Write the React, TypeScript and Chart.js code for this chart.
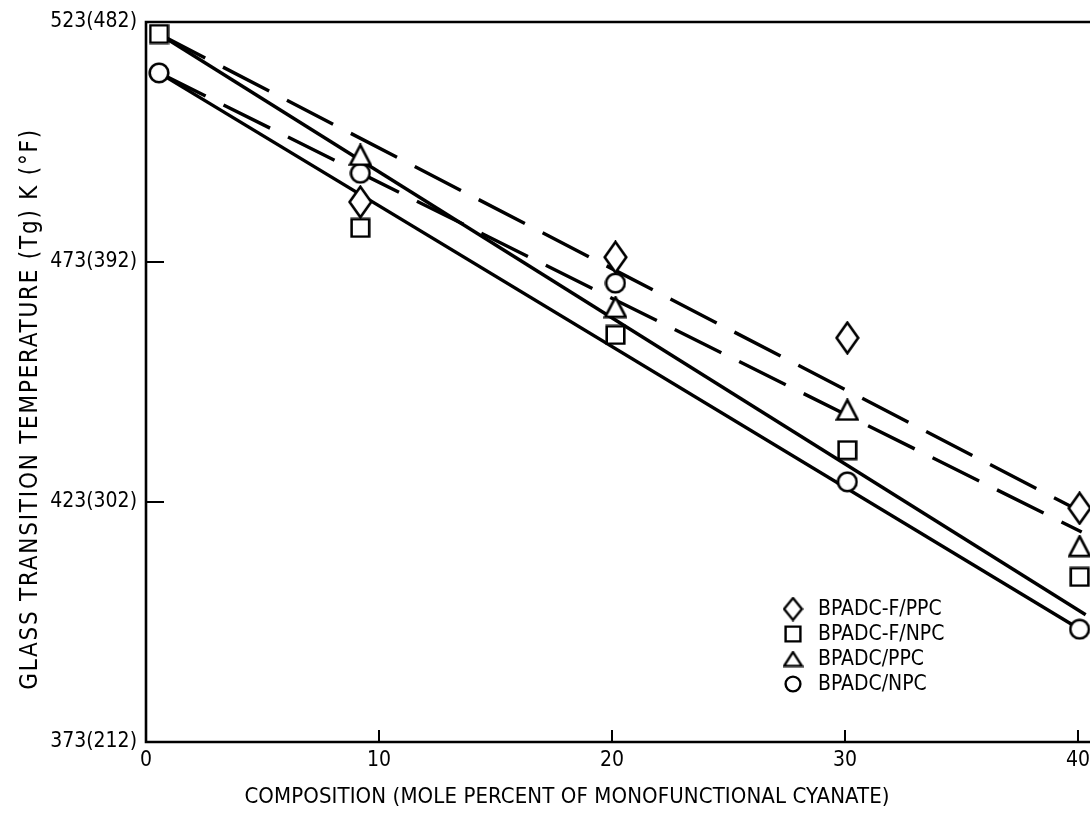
import React, { useEffect, useRef } from "react";
import { Chart, registerables } from "chart.js";

Chart.register(...registerables);

// Mole percent of monofunctional cyanate at which each group of specimens was plotted
const composition = [0.56, 9.2, 20.15, 30.1, 40.07];

// Glass transition temperatures, K
const tgFPPC = [null, 485.5, 474.0, 457.2, 421.7];
const tgFNPC = [520.5, 480.1, 457.8, 433.8, 407.4];
const tgPPC = [null, 495.3, 463.6, 442.2, 413.8];
const tgNPC = [512.4, 491.5, 468.6, 427.2, 396.5];

const seriesLabels = ["BPADC-F/PPC", "BPADC-F/NPC", "BPADC/PPC", "BPADC/NPC"];

// Straight-line fits, given by their two end points
const fitFPPCx = [0.56, 40.16];
const fitFPPCy = [520.5, 420.9];
const fitFNPCx = [0.56, 40.33];
const fitFNPCy = [520.5, 399.5];
const fitPPCx = [0.56, 40.16];
const fitPPCy = [512.4, 416.75];
const fitNPCx = [0.56, 40.08];
const fitNPCy = [512.4, 396.5];

const xTicks = [0, 10, 20, 30, 40];
const xTickLabels = ["0", "10", "20", "30", "40"];
const yTicks = [373, 423, 473, 523];
const yTickLabels = ["373(212)", "423(302)", "473(392)", "523(482)"];

const xTitle = "COMPOSITION (MOLE PERCENT OF MONOFUNCTIONAL CYANATE)";
const yTitle = "GLASS TRANSITION TEMPERATURE (Tg) K (°F)";

const FONT = '"DejaVu Sans Condensed", "Liberation Sans Narrow", sans-serif';

type Shape = "diamond" | "square" | "triangle" | "circle";

function makeMarker(shape: Shape, w: number, h: number, lw = 2.6): HTMLCanvasElement {
  const c = document.createElement("canvas");
  c.width = w;
  c.height = h;
  const ctx = c.getContext("2d")!;
  const m = lw / 2 + 0.4;
  ctx.lineWidth = lw;
  ctx.strokeStyle = "#000";
  ctx.fillStyle = "#fff";
  ctx.lineJoin = "miter";
  ctx.beginPath();
  if (shape === "diamond") {
    ctx.moveTo(w / 2, m);
    ctx.lineTo(w - m, h / 2);
    ctx.lineTo(w / 2, h - m);
    ctx.lineTo(m, h / 2);
    ctx.closePath();
  } else if (shape === "square") {
    ctx.rect(m, m, w - 2 * m, h - 2 * m);
  } else if (shape === "triangle") {
    ctx.moveTo(w / 2, m);
    ctx.lineTo(w - m, h - m);
    ctx.lineTo(m, h - m);
    ctx.closePath();
  } else {
    ctx.arc(w / 2, h / 2, Math.min(w, h) / 2 - m, 0, Math.PI * 2);
  }
  ctx.fill();
  ctx.stroke();
  return c;
}

function pts(xs: number[], ys: (number | null)[]) {
  return xs.map((x, i) => ({ x, y: ys[i] as number | null })).filter((p) => p.y !== null);
}

function drawSpacedText(ctx: CanvasRenderingContext2D, text: string, targetWidth: number) {
  const c = ctx as any;
  c.letterSpacing = "0px";
  const natural = ctx.measureText(text).width;
  const gap = (targetWidth - natural) / Math.max(text.length - 1, 1);
  c.letterSpacing = `${gap.toFixed(2)}px`;
  const w = ctx.measureText(text).width;
  ctx.fillText(text, -w / 2, 0);
  c.letterSpacing = "0px";
}

export default function App() {
  const ref = useRef<HTMLCanvasElement | null>(null);

  useEffect(() => {
    if (!ref.current) return;

    const plotMarkers = {
      diamond: makeMarker("diamond", 25, 34),
      square: makeMarker("square", 21, 21),
      triangle: makeMarker("triangle", 24, 23),
      circle: makeMarker("circle", 22, 22),
    };
    const legendMarkers = [
      makeMarker("diamond", 21, 25, 2.4),
      makeMarker("square", 18, 18, 2.4),
      makeMarker("triangle", 21, 17, 2.4),
      makeMarker("circle", 18, 18, 2.4),
    ];

    const markerSet = (label: string, ys: (number | null)[], img: HTMLCanvasElement) => ({
      label,
      data: pts(composition, ys),
      pointStyle: img,
      pointRadius: 10,
      pointHoverRadius: 10,
      showLine: false,
      clip: false as any,
      order: 0,
    });

    const fitSet = (xs: number[], ys: number[], dashed: boolean) => ({
      data: pts(xs, ys),
      showLine: true,
      pointRadius: 0,
      pointHoverRadius: 0,
      borderColor: "#000",
      borderWidth: 3.4,
      borderDash: dashed ? [52, 20] : [],
      borderCapStyle: "butt" as const,
      fill: false,
      order: 1,
    });

    const frame = {
      id: "frame",
      beforeDatasetsDraw(chart: any) {
        const { ctx, chartArea } = chart;
        const { left, right, top, bottom } = chartArea;
        const xs = chart.scales.x;
        const ys = chart.scales.y;
        ctx.save();
        ctx.strokeStyle = "#000";
        ctx.lineWidth = 2.6;
        ctx.lineCap = "square";
        ctx.beginPath();
        ctx.moveTo(right, top);
        ctx.lineTo(left, top);
        ctx.lineTo(left, bottom);
        ctx.lineTo(right, bottom);
        ctx.stroke();
        ctx.lineWidth = 2;
        ctx.lineCap = "butt";
        ctx.beginPath();
        xTicks.slice(1).forEach((v) => {
          const px = xs.getPixelForValue(v);
          ctx.moveTo(px, bottom);
          ctx.lineTo(px, bottom - 12);
        });
        yTicks.slice(1, -1).forEach((v) => {
          const py = ys.getPixelForValue(v);
          ctx.moveTo(left, py);
          ctx.lineTo(left + 18, py);
        });
        ctx.stroke();
        ctx.restore();
      },
      afterDraw(chart: any) {
        const { ctx } = chart;
        ctx.save();
        ctx.fillStyle = "#000";
        ctx.textBaseline = "middle";
        ctx.textAlign = "left";

        // axis titles
        ctx.font = `22px ${FONT}`;
        ctx.save();
        ctx.translate(567, 797);
        drawSpacedText(ctx, xTitle, 645);
        ctx.restore();

        ctx.font = `24px ${FONT}`;
        ctx.save();
        ctx.translate(31, 409);
        ctx.rotate(-Math.PI / 2);
        drawSpacedText(ctx, yTitle, 560);
        ctx.restore();

        // legend
        ctx.font = `21px ${FONT}`;
        const rows = [609, 634, 659, 684];
        chart.data.datasets.forEach((ds: any, i: number) => {
          if (!ds.label) return;
          const img = legendMarkers[i];
          const y = rows[i];
          ctx.drawImage(img, 793 - img.width / 2, y - img.height / 2);
          ctx.fillText(ds.label, 818, y + 1);
        });
        ctx.restore();
      },
    };

    const chart = new Chart(ref.current, {
      type: "scatter",
      data: {
        datasets: [
          markerSet(seriesLabels[0], tgFPPC, plotMarkers.diamond),
          markerSet(seriesLabels[1], tgFNPC, plotMarkers.square),
          markerSet(seriesLabels[2], tgPPC, plotMarkers.triangle),
          markerSet(seriesLabels[3], tgNPC, plotMarkers.circle),
          fitSet(fitFPPCx, fitFPPCy, true),
          fitSet(fitFNPCx, fitFNPCy, false),
          fitSet(fitPPCx, fitPPCy, true),
          fitSet(fitNPCx, fitNPCy, false),
        ] as any,
      },
      options: {
        responsive: false,
        animation: false,
        devicePixelRatio: 1,
        layout: { padding: { top: 22, right: 0, left: 0, bottom: 0 } },
        plugins: {
          legend: { display: false },
          tooltip: { enabled: false },
        },
        scales: {
          x: {
            type: "linear",
            min: 0,
            max: 41.76,
            afterFit(s: any) {
              s.height = 81;
            },
            afterBuildTicks(s: any) {
              s.ticks = xTicks.map((v) => ({ value: v }));
            },
            grid: { display: false, drawTicks: false },
            border: { display: false },
            ticks: {
              color: "#000",
              padding: 6,
              maxRotation: 0,
              autoSkip: false,
              font: { family: FONT, size: 21 },
              callback: (_v: any, i: number) => xTickLabels[i],
            },
          },
          y: {
            type: "linear",
            min: 373,
            max: 523,
            afterFit(s: any) {
              s.width = 146;
            },
            afterBuildTicks(s: any) {
              s.ticks = yTicks.map((v) => ({ value: v }));
            },
            grid: { display: false, drawTicks: false },
            border: { display: false },
            ticks: {
              color: "#000",
              padding: 9,
              autoSkip: false,
              font: { family: FONT, size: 21 },
              callback: (_v: any, i: number) => yTickLabels[i],
            },
          },
        },
      } as any,
      plugins: [frame],
    });

    return () => chart.destroy();
  }, []);

  return (
    <div
      style={{
        position: "fixed",
        left: 0,
        top: 0,
        width: 1090,
        height: 823,
        overflow: "hidden",
        background: "#fff",
      }}
    >
      <canvas ref={ref} width={1130} height={823} style={{ display: "block" }} />
    </div>
  );
}
